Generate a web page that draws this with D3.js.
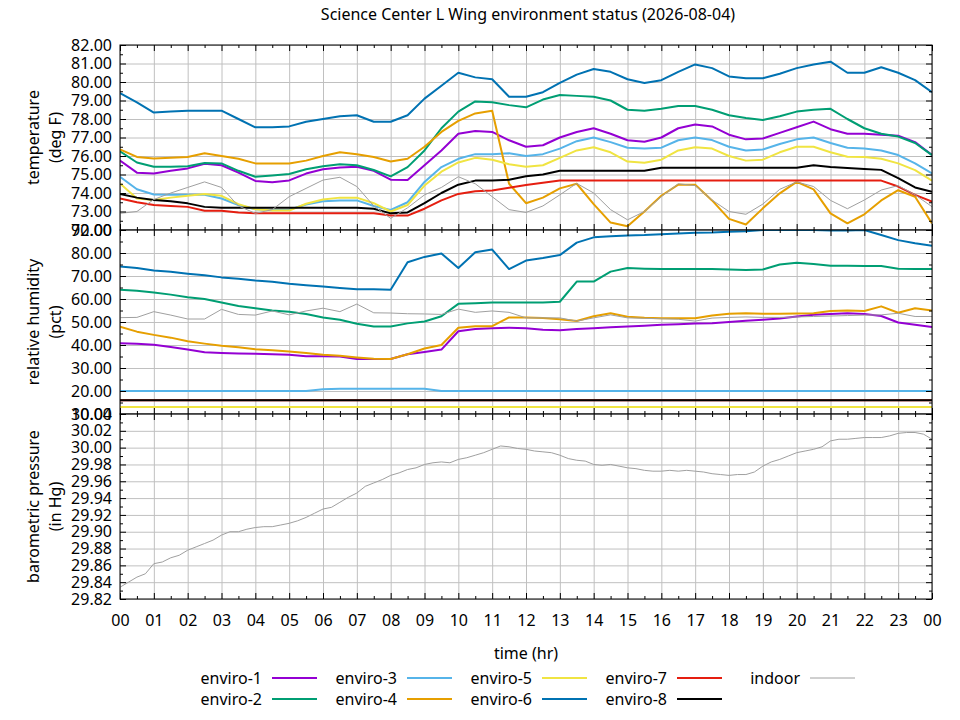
<!DOCTYPE html>
<html>
<head>
<meta charset="UTF-8">
<title>Science Center L Wing environment status</title>
<script src="https://cdn.jsdelivr.net/npm/d3@7"></script>
<style>
  body { margin: 0; background: #fff; }
  text { font-family: "Noto Sans", sans-serif; font-size: 16px; fill: #000; }
</style>
</head>
<body>
<script>
// ---- data ----
var seriesNames = ["enviro-1", "enviro-2", "enviro-3", "enviro-4", "enviro-5", "enviro-6", "enviro-7", "enviro-8", "indoor"];
var seriesColors = ["#9400d3", "#009e73", "#56b4e9", "#e69f00", "#f0e442", "#0072b2", "#e51e10", "#000000", "#a0a0a0"];

var hourLabels = ["00","01","02","03","04","05","06","07","08","09","10","11","12","13","14","15","16","17","18","19","20","21","22","23","00"];
var hourTicks = [0,1,2,3,4,5,6,7,8,9,10,11,12,13,14,15,16,17,18,19,20,21,22,23,24];
var tempTicks = [72,73,74,75,76,77,78,79,80,81,82];
var humTicks = [10,20,30,40,50,60,70,80,90];
var pressTicks = [29.82,29.84,29.86,29.88,29.90,29.92,29.94,29.96,29.98,30.00,30.02,30.04];

// half-hour samples
var hours = [0,0.5,1,1.5,2,2.5,3,3.5,4,4.5,5,5.5,6,6.5,7,7.5,8,8.5,9,9.5,10,10.5,11,11.5,12,12.5,13,13.5,14,14.5,15,15.5,16,16.5,17,17.5,18,18.5,19,19.5,20,20.5,21,21.5,22,22.5,23,23.5,24];

// temperature (deg F)
var tempE1 = [75.75,75.10,75.05,75.20,75.33,75.58,75.50,75.10,74.65,74.58,74.68,75.05,75.28,75.38,75.42,75.20,74.72,74.70,75.50,76.30,77.20,77.35,77.30,76.85,76.50,76.58,77.00,77.30,77.50,77.20,76.85,76.77,77.00,77.50,77.70,77.60,77.15,76.90,76.95,77.25,77.55,77.86,77.45,77.20,77.20,77.15,77.10,76.75,76.05];
var tempE2 = [76.25,75.65,75.42,75.42,75.45,75.62,75.60,75.20,74.88,74.95,75.03,75.28,75.45,75.56,75.50,75.24,74.90,75.40,76.30,77.50,78.40,78.95,78.90,78.75,78.63,79.05,79.30,79.25,79.20,79.00,78.50,78.45,78.55,78.70,78.70,78.50,78.20,78.05,77.95,78.15,78.40,78.50,78.55,78.00,77.50,77.20,77.05,76.70,76.05];
var tempE3 = [74.88,74.20,73.92,73.90,73.90,73.90,73.70,73.35,73.12,73.08,73.10,73.38,73.55,73.60,73.60,73.30,73.08,73.50,74.60,75.40,75.85,76.10,76.10,76.15,76.00,76.10,76.40,76.80,77.00,76.75,76.45,76.41,76.45,76.85,77.00,76.86,76.50,76.30,76.35,76.65,76.90,77.00,76.70,76.45,76.40,76.30,76.05,75.60,75.06];
var tempE4 = [76.35,75.95,75.86,75.90,75.95,76.15,76.00,75.85,75.60,75.60,75.60,75.75,76.00,76.20,76.10,75.95,75.70,75.85,76.50,77.30,77.90,78.30,78.45,74.50,73.45,73.75,74.25,74.50,73.40,72.40,72.20,73.00,73.85,74.45,74.45,73.60,72.60,72.30,73.17,73.98,74.60,74.20,72.90,72.36,72.85,73.60,74.15,73.80,72.36];
var tempE5 = [74.52,73.70,73.62,73.75,73.85,73.95,73.85,73.40,73.12,73.05,73.05,73.42,73.65,73.75,73.75,73.45,73.00,73.35,74.40,75.15,75.65,75.90,75.80,75.55,75.42,75.50,75.90,76.30,76.47,76.20,75.70,75.64,75.80,76.30,76.47,76.40,76.00,75.75,75.80,76.20,76.50,76.50,76.20,75.96,75.95,75.85,75.60,75.24,74.67];
var tempE6 = [79.40,78.90,78.35,78.40,78.45,78.45,78.45,78.00,77.55,77.55,77.60,77.85,78.00,78.15,78.20,77.85,77.85,78.20,79.10,79.80,80.50,80.25,80.15,79.20,79.20,79.45,79.95,80.40,80.70,80.55,80.15,79.95,80.10,80.55,80.95,80.75,80.30,80.20,80.20,80.45,80.75,80.95,81.10,80.50,80.50,80.80,80.50,80.10,79.45];
var tempE7 = [73.71,73.50,73.35,73.30,73.25,73.04,73.04,72.95,72.90,72.90,72.90,72.90,72.90,72.90,72.90,72.90,72.78,72.78,73.15,73.60,73.95,74.10,74.13,74.28,74.43,74.55,74.67,74.67,74.67,74.67,74.67,74.67,74.67,74.67,74.67,74.67,74.67,74.67,74.67,74.67,74.67,74.67,74.67,74.67,74.67,74.67,74.35,73.90,73.53];
var tempE8 = [73.95,73.75,73.62,73.55,73.44,73.25,73.20,73.20,73.20,73.20,73.20,73.20,73.20,73.20,73.20,73.15,72.90,72.95,73.45,74.00,74.45,74.67,74.67,74.72,74.90,75.00,75.20,75.20,75.20,75.20,75.20,75.20,75.37,75.37,75.37,75.37,75.37,75.37,75.37,75.37,75.37,75.50,75.40,75.35,75.30,75.25,74.80,74.30,74.07];
var tempIndoor = [72.90,73.00,73.65,74.00,74.30,74.60,74.30,73.30,72.90,73.10,73.80,74.25,74.70,74.85,74.35,73.30,72.63,73.20,73.90,74.30,74.88,74.50,73.80,73.10,72.95,73.30,73.90,74.52,74.00,73.10,72.55,73.00,73.80,74.50,74.40,73.62,73.00,72.85,73.40,74.20,74.60,74.35,73.60,73.15,73.62,74.16,74.40,73.90,73.26];

// relative humidity (pct)
var humE1 = [40.8,40.5,40.1,39.1,38.0,36.8,36.5,36.3,36.2,36.0,35.8,35.1,35.1,35.0,33.9,33.9,33.9,36.0,37.0,38.0,46.0,47.0,47.3,47.5,47.3,46.6,46.4,47.0,47.3,47.7,48.0,48.4,48.8,49.0,49.3,49.5,50.0,50.5,51.0,51.5,52.4,53.1,53.5,53.8,53.5,52.6,49.8,48.8,47.8];
var humE2 = [64.0,63.6,62.8,61.9,60.8,60.0,58.5,57.0,56.0,55.0,54.5,53.5,52.0,51.0,49.2,48.0,48.0,49.4,50.2,52.5,57.9,58.2,58.5,58.5,58.5,58.5,58.8,67.6,67.6,71.9,73.5,73.2,73.0,73.0,73.0,73.0,72.8,72.6,72.8,75.0,75.8,75.2,74.5,74.5,74.3,74.3,73.2,73.0,73.0];
var humE3 = [20.0,20.0,20.0,20.0,20.0,20.0,20.0,20.0,20.0,20.0,20.0,20.0,20.8,21.0,21.0,21.0,21.0,21.0,21.0,20.0,20.0,20.0,20.0,20.0,20.0,20.0,20.0,20.0,20.0,20.0,20.0,20.0,20.0,20.0,20.0,20.0,20.0,20.0,20.0,20.0,20.0,20.0,20.0,20.0,20.0,20.0,20.0,20.0,20.0];
var humE4 = [48.0,45.8,44.4,43.2,41.6,40.6,39.7,39.0,38.2,37.7,37.2,36.5,35.8,35.3,34.6,34.0,33.9,36.0,38.5,40.0,47.5,48.2,48.2,52.0,52.0,51.7,51.2,50.4,52.5,53.8,52.3,51.8,51.6,51.6,51.6,52.8,53.6,53.8,53.6,53.6,53.7,53.8,54.8,55.0,54.8,56.8,54.0,56.0,55.0];
var humE5 = [13.0,13.0,13.0,13.0,13.0,13.0,13.0,13.0,13.0,13.0,13.0,13.0,13.0,13.0,13.0,13.0,13.0,13.0,13.0,13.0,13.0,13.0,13.0,13.0,13.0,13.0,13.0,13.0,13.0,13.0,13.0,13.0,13.0,13.0,13.0,13.0,13.0,13.0,13.0,13.0,13.0,13.0,13.0,13.0,13.0,13.0,13.0,13.0,13.0];
var humE6 = [74.1,73.5,72.4,71.8,71.0,70.3,69.4,68.8,68.0,67.5,66.6,66.0,65.4,64.8,64.2,64.2,64.0,76.0,78.3,79.8,73.5,80.3,81.5,73.0,76.7,77.8,79.1,84.5,86.8,87.3,87.6,87.8,88.2,88.5,88.8,88.9,89.2,89.5,90.0,90.0,90.0,90.0,89.8,89.8,90.0,87.8,85.6,84.2,83.1];
var humE7 = [16.0,16.0,16.0,16.0,16.0,16.0,16.0,16.0,16.0,16.0,16.0,16.0,16.0,16.0,16.0,16.0,16.0,16.0,16.0,16.0,16.0,16.0,16.0,16.0,16.0,16.0,16.0,16.0,16.0,16.0,16.0,16.0,16.0,16.0,16.0,16.0,16.0,16.0,16.0,16.0,16.0,16.0,16.0,16.0,16.0,16.0,16.0,16.0,16.0];
var humE8 = [16.0,16.0,16.0,16.0,16.0,16.0,16.0,16.0,16.0,16.0,16.0,16.0,16.0,16.0,16.0,16.0,16.0,16.0,16.0,16.0,16.0,16.0,16.0,16.0,16.0,16.0,16.0,16.0,16.0,16.0,16.0,16.0,16.0,16.0,16.0,16.0,16.0,16.0,16.0,16.0,16.0,16.0,16.0,16.0,16.0,16.0,16.0,16.0,16.0];
var humIndoor = [51.9,52.0,54.5,53.0,51.3,51.3,55.5,53.3,53.0,54.8,53.1,54.8,56.0,54.5,57.8,54.0,53.9,53.6,53.5,53.3,55.6,54.2,54.8,54.2,51.8,51.8,51.8,50.4,51.8,53.1,51.8,51.6,51.4,51.2,50.4,51.7,52.0,52.2,52.0,52.0,52.2,52.4,52.6,52.8,53.0,53.1,53.8,52.4,52.4];

// barometric pressure (in Hg), indoor only, quarter-hour samples
var pressHours = [0,0.25,0.5,0.75,1,1.25,1.5,1.75,2,2.25,2.5,2.75,3,3.25,3.5,3.75,4,4.25,4.5,4.75,5,5.25,5.5,5.75,6,6.25,6.5,6.75,7,7.25,7.5,7.75,8,8.25,8.5,8.75,9,9.25,9.5,9.75,10,10.25,10.5,10.75,11,11.25,11.5,11.75,12,12.25,12.5,12.75,13,13.25,13.5,13.75,14,14.25,14.5,14.75,15,15.25,15.5,15.75,16,16.25,16.5,16.75,17,17.25,17.5,17.75,18,18.25,18.5,18.75,19,19.25,19.5,19.75,20,20.25,20.5,20.75,21,21.25,21.5,21.75,22,22.25,22.5,22.75,23,23.25,23.5,23.75,24];
var pressIndoor = [29.834,29.840,29.846,29.850,29.862,29.864,29.869,29.872,29.878,29.882,29.886,29.890,29.896,29.900,29.900,29.903,29.905,29.906,29.906,29.908,29.910,29.913,29.917,29.922,29.927,29.929,29.935,29.941,29.946,29.954,29.958,29.962,29.967,29.970,29.974,29.976,29.980,29.982,29.983,29.982,29.986,29.988,29.991,29.994,29.998,30.002,30.001,29.999,29.998,29.996,29.995,29.994,29.991,29.987,29.985,29.984,29.980,29.979,29.980,29.978,29.976,29.975,29.973,29.972,29.972,29.973,29.972,29.973,29.972,29.971,29.969,29.968,29.967,29.968,29.968,29.971,29.978,29.983,29.986,29.990,29.994,29.996,29.998,30.001,30.008,30.010,30.010,30.011,30.012,30.012,30.012,30.014,30.017,30.018,30.018,30.016,30.010];

// ---- layout ----
var width = 960, height = 720;
var left = 120, right = 932;

var svg = d3.select("body").append("svg").attr("width", width).attr("height", height);

var x = d3.scaleLinear().domain([0, 24]).range([left, right]);
var minorHours = hourTicks.slice(0, 24).map(function(h) { return h + 0.5; });

function zip(xs, ys) { return xs.map(function(v, i) { return [v, ys[i]]; }); }

// axis helpers: tick-only axes lose their (empty) labels
function tidy(s) { s.select(".domain").remove(); s.selectAll("line").attr("stroke", "#000"); }
function bare(s) { tidy(s); s.selectAll("text").remove(); }
function gridStyle(s) { s.select(".domain").remove(); s.selectAll("text").remove(); s.selectAll("line").attr("stroke", "#c0c0c0"); }
function plainText(s) { s.selectAll("text").attr("font-family", null).attr("font-size", null); }

function drawPanel(id, top, bottom, domain, ticks, minorStep, labelLines, series, showHourLabels) {
    var y = d3.scaleLinear().domain(domain).range([bottom, top]);
    var minorY = ticks.slice(0, -1).map(function(t) { return t + minorStep; });
    var g = svg.append("g");

    // grid
    g.append("g").attr("transform", "translate(" + left + ",0)")
        .call(d3.axisLeft(y).tickValues(ticks).tickSize(-(right - left)))
        .call(gridStyle);
    g.append("g").attr("transform", "translate(0," + bottom + ")")
        .call(d3.axisBottom(x).tickValues(hourTicks).tickSize(-(bottom - top)))
        .call(gridStyle);

    // data lines, clipped to the panel
    svg.append("clipPath").attr("id", id)
        .append("rect").attr("x", left).attr("y", top).attr("width", right - left).attr("height", bottom - top);

    var line = d3.line().x(function(d) { return x(d[0]); }).y(function(d) { return y(d[1]); });
    g.append("g").attr("clip-path", "url(#" + id + ")")
        .selectAll("path").data(series).enter().append("path")
        .attr("d", function(s) { return line(s.points); })
        .attr("fill", "none")
        .attr("stroke", function(s) { return s.color; })
        .attr("stroke-width", function(s) { return s.width; })
        .attr("stroke-linejoin", "round");

    // border
    g.append("rect").attr("x", left).attr("y", top).attr("width", right - left).attr("height", bottom - top)
        .attr("fill", "none").attr("stroke", "#000").attr("stroke-width", 1);

    // ticks, pointing inwards on all four sides
    g.append("g").attr("transform", "translate(" + left + ",0)")
        .call(d3.axisLeft(y).tickValues(ticks).tickSize(-6).tickPadding(8).tickFormat(d3.format(".2f")))
        .call(tidy).call(plainText);
    g.append("g").attr("transform", "translate(" + left + ",0)")
        .call(d3.axisLeft(y).tickValues(minorY).tickSize(-3)).call(bare);
    g.append("g").attr("transform", "translate(" + right + ",0)")
        .call(d3.axisRight(y).tickValues(ticks).tickSize(-6)).call(bare);
    g.append("g").attr("transform", "translate(" + right + ",0)")
        .call(d3.axisRight(y).tickValues(minorY).tickSize(-3)).call(bare);

    var bot = g.append("g").attr("transform", "translate(0," + bottom + ")")
        .call(d3.axisBottom(x).tickValues(hourTicks).tickSize(-6).tickPadding(16)
            .tickFormat(function(d) { return hourLabels[d]; }));
    if (showHourLabels) bot.call(tidy).call(plainText); else bot.call(bare);
    g.append("g").attr("transform", "translate(0," + bottom + ")")
        .call(d3.axisBottom(x).tickValues(minorHours).tickSize(-3)).call(bare);
    g.append("g").attr("transform", "translate(0," + top + ")")
        .call(d3.axisTop(x).tickValues(hourTicks).tickSize(-6)).call(bare);
    g.append("g").attr("transform", "translate(0," + top + ")")
        .call(d3.axisTop(x).tickValues(minorHours).tickSize(-3)).call(bare);

    // y axis title, two lines
    var cy = (top + bottom) / 2;
    labelLines.forEach(function(txt, i) {
        var lx = 33 + i * 22;
        svg.append("text")
            .attr("transform", "translate(" + lx + "," + cy + ") rotate(-90)")
            .attr("text-anchor", "middle")
            .attr("dominant-baseline", "central")
            .text(txt);
    });
}

function makeSeries(arrays, xs) {
    return arrays.map(function(a, i) {
        return { name: seriesNames[i], color: seriesColors[i], width: i === 8 ? 1 : 2, points: zip(xs, a) };
    });
}

var tempSeries = makeSeries([tempE1, tempE2, tempE3, tempE4, tempE5, tempE6, tempE7, tempE8, tempIndoor], hours);
var humSeries = makeSeries([humE1, humE2, humE3, humE4, humE5, humE6, humE7, humE8, humIndoor], hours);
var pressSeries = [{ name: "indoor", color: seriesColors[8], width: 1, points: zip(pressHours, pressIndoor) }];

drawPanel("clipT", 45, 230, [72, 82], tempTicks, 0.5, ["temperature", "(deg F)"], tempSeries, false);
drawPanel("clipH", 230, 414, [10, 90], humTicks, 5, ["relative humidity", "(pct)"], humSeries, false);
drawPanel("clipP", 414, 599, [29.82, 30.04], pressTicks, 0.01, ["barometric pressure", "(in Hg)"], pressSeries, true);

// title and x label
svg.append("text").attr("x", 528).attr("y", 14).attr("text-anchor", "middle")
    .attr("dominant-baseline", "central").text("Science Center L Wing environment status (2026-08-04)");
svg.append("text").attr("x", 526).attr("y", 653).attr("text-anchor", "middle")
    .attr("dominant-baseline", "central").text("time (hr)");

// legend, two rows
var legend = svg.append("g");
seriesNames.forEach(function(name, i) {
    var col = Math.floor(i / 2), row = i % 2;
    var tx = 262 + col * 135 - (i === 8 ? 2 : 0);
    var ty = 678 + row * 21;
    legend.append("text").attr("x", tx).attr("y", ty).attr("text-anchor", "end")
        .attr("dominant-baseline", "central").text(name);
    legend.append("line").attr("x1", tx + 10).attr("x2", tx + 55).attr("y1", ty).attr("y2", ty)
        .attr("stroke", seriesColors[i]).attr("stroke-width", i === 8 ? 1 : 2);
});
</script>
</body>
</html>
